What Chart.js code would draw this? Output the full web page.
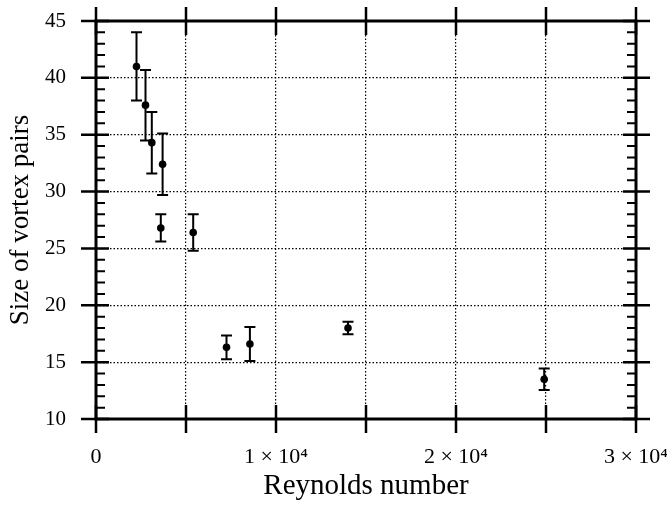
<!DOCTYPE html>
<html>
<head>
<meta charset="utf-8">
<title>Size of vortex pairs vs Reynolds number</title>
<script src="https://cdn.jsdelivr.net/npm/chart.js@4/dist/chart.umd.min.js"></script>
<style>
  html, body { margin: 0; padding: 0; background: #fff; }
  canvas { display: block; }
</style>
</head>
<body>
<canvas id="vortexChart" width="667" height="505"></canvas>
<script>
// Measured points: Reynolds number, vortex pair size and its +/- error
const reynolds = [2250, 2750, 3100, 3700, 3600, 5400, 7250, 8550, 14000, 24900];
const pairSize = [41.0, 37.6, 34.3, 32.4, 26.8, 26.4, 16.3, 16.6, 18.0, 13.5];
const pairErr = [3.0, 3.1, 2.7, 2.7, 1.2, 1.6, 1.05, 1.5, 0.55, 0.95];

// Axis ranges and ticks
const xRange = [0, 30000];
const xStep = 5000;
const xLabels = { 0: '0', 10000: '1 × 10⁴', 20000: '2 × 10⁴', 30000: '3 × 10⁴' };
const yRange = [10, 45];
const yStep = 5;
const yMinorStep = 1;

const FONT = "'Liberation Serif', 'Times New Roman', serif";

// Vertical error bars with small caps, drawn under the points
const errorBars = {
  id: 'errorBars',
  beforeDatasetsDraw(chart) {
    const { ctx, scales: { x, y } } = chart;
    ctx.save();
    ctx.strokeStyle = '#000';
    ctx.lineWidth = 2;
    reynolds.forEach((r, i) => {
      const px = x.getPixelForValue(r);
      const top = y.getPixelForValue(pairSize[i] + pairErr[i]);
      const bot = y.getPixelForValue(pairSize[i] - pairErr[i]);
      ctx.beginPath();
      ctx.moveTo(px, top);
      ctx.lineTo(px, bot);
      ctx.moveTo(px - 5.5, top);
      ctx.lineTo(px + 5.5, top);
      ctx.moveTo(px - 5.5, bot);
      ctx.lineTo(px + 5.5, bot);
      ctx.stroke();
    });
    ctx.restore();
  }
};

// Heavy box frame with crossing major ticks and inward minor ticks
const frame = {
  id: 'frame',
  afterDraw(chart) {
    const { ctx, chartArea: a, scales: { x, y } } = chart;
    ctx.save();
    ctx.strokeStyle = '#000';
    ctx.lineCap = 'butt';

    ctx.lineWidth = 3;
    ctx.strokeRect(a.left, a.top, a.right - a.left, a.bottom - a.top);

    for (let v = yRange[0]; v <= yRange[1]; v += yMinorStep) {
      const py = y.getPixelForValue(v);
      ctx.beginPath();
      if (v % yStep === 0) {
        ctx.lineWidth = 2.5;
        ctx.moveTo(a.left - 15, py);
        ctx.lineTo(a.left + 13, py);
        ctx.moveTo(a.right - 13, py);
        ctx.lineTo(a.right + 14, py);
      } else {
        ctx.lineWidth = 2;
        ctx.moveTo(a.left, py);
        ctx.lineTo(a.left + 9, py);
        ctx.moveTo(a.right - 9, py);
        ctx.lineTo(a.right, py);
      }
      ctx.stroke();
    }

    ctx.lineWidth = 2.5;
    for (let v = xRange[0]; v <= xRange[1]; v += xStep) {
      const px = x.getPixelForValue(v);
      ctx.beginPath();
      ctx.moveTo(px, a.top - 14);
      ctx.lineTo(px, a.top + 14);
      ctx.moveTo(px, a.bottom - 14);
      ctx.lineTo(px, a.bottom + 14);
      ctx.stroke();
    }
    ctx.restore();
  }
};

const ctx = document.getElementById('vortexChart').getContext('2d');
new Chart(ctx, {
  type: 'scatter',
  data: {
    datasets: [{
      data: reynolds.map((r, i) => ({ x: r, y: pairSize[i] })),
      pointRadius: 3.8,
      pointBackgroundColor: '#000',
      pointBorderColor: '#000',
      pointBorderWidth: 0
    }]
  },
  options: {
    responsive: false,
    animation: false,
    events: [],
    layout: { padding: { top: 21, right: 31, left: 0, bottom: 0 } },
    plugins: {
      legend: { display: false },
      tooltip: { enabled: false }
    },
    scales: {
      x: {
        type: 'linear',
        min: xRange[0],
        max: xRange[1],
        afterFit(scale) {
          scale.height = 86;
          scale.paddingLeft = 0;
          scale.paddingRight = 0;
        },
        border: { display: false, dash: [1.5, 2] },
        grid: { color: '#000', lineWidth: 1.2, drawTicks: false },
        ticks: {
          stepSize: xStep,
          autoSkip: false,
          maxRotation: 0,
          padding: 25,
          color: '#000',
          font: { family: FONT, size: 22 },
          callback: v => xLabels[v] || ''
        },
        title: {
          display: true,
          text: 'Reynolds number',
          color: '#000',
          font: { family: FONT, size: 29 },
          padding: { top: 0, bottom: 1 }
        }
      },
      y: {
        min: yRange[0],
        max: yRange[1],
        afterFit(scale) {
          scale.width = 96;
          scale.paddingTop = 0;
          scale.paddingBottom = 0;
        },
        border: { display: false, dash: [1.5, 2] },
        grid: { color: '#000', lineWidth: 1.2, drawTicks: false },
        ticks: {
          stepSize: yStep,
          padding: 30,
          color: '#000',
          font: { family: FONT, size: 21 }
        },
        title: {
          display: true,
          text: 'Size of vortex pairs',
          color: '#000',
          font: { family: FONT, size: 27 },
          padding: { top: 5, bottom: 0 }
        }
      }
    }
  },
  plugins: [errorBars, frame]
});
</script>
</body>
</html>
